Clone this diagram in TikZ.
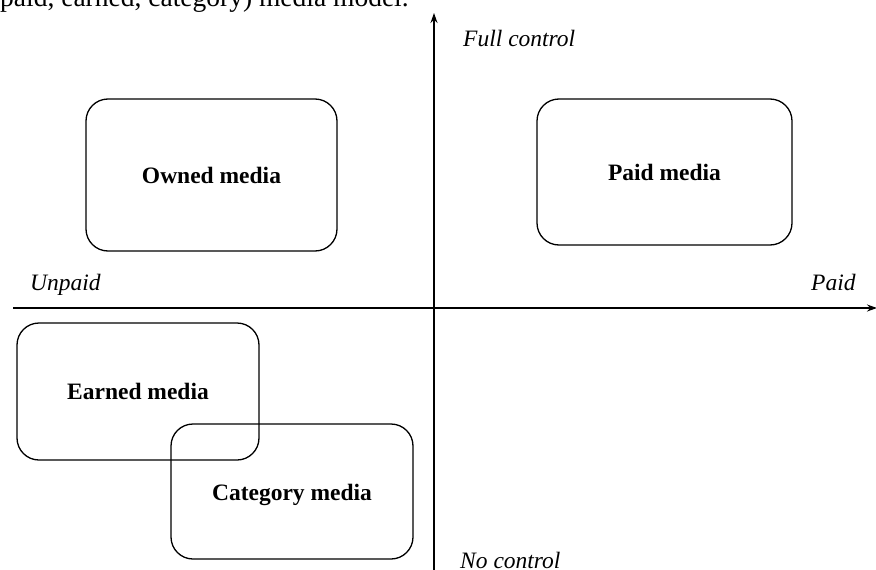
\documentclass[tikz,border=0pt]{standalone}
\usepackage{fontspec}
\setmainfont{Liberation Serif}
\usetikzlibrary{arrows.meta}
\begin{document}
\begin{tikzpicture}[x=1pt,y=-1pt,
  mbox/.style={draw, line width=1.3pt, rounded corners=22pt, font=\fontsize{23.5}{28}\selectfont\bfseries},
  axis/.style={line width=1.3pt, -{Stealth[length=10pt,width=7pt]}},
  albl/.style={font=\fontsize{23.5}{28}\selectfont\itshape, inner sep=0pt}]
\useasboundingbox (0,0) rectangle (876,570);
% clipped caption fragment
\node[anchor=base west, inner sep=0pt, font=\fontsize{27.5}{32}\selectfont] (cap) at (0,6) {paid, earned, category) media model.};
% axes
\coordinate (vb) at (434,572);
\coordinate (vt) at (434,13);
\coordinate (hl) at (13,308);
\coordinate (hr) at (877,308);
\draw[axis] (vb) -- (vt);
\draw[axis] (hl) -- (hr);
% axis labels
\node[albl, anchor=base west] (full) at (463,46) {Full control};
\node[albl, anchor=base west] (unpaid) at (30,290) {Unpaid};
\node[albl, anchor=base west] (paid) at (811,290) {Paid};
\node[albl, anchor=base west] (noc) at (460,568) {No control};
% boxes
\draw[mbox] (86,99) rectangle (337,251);
\node[font=\fontsize{23.5}{28}\selectfont\bfseries] (owned) at (211.5,175) {Owned media};
\draw[mbox] (537,99) rectangle (792,245);
\node[font=\fontsize{23.5}{28}\selectfont\bfseries] (paidm) at (664.5,172) {Paid media};
\draw[mbox] (17,323) rectangle (259,460);
\node[font=\fontsize{23.5}{28}\selectfont\bfseries] (earned) at (138,391) {Earned media};
\draw[mbox] (171,424) rectangle (413,559);
\node[font=\fontsize{23.5}{28}\selectfont\bfseries] (cat) at (292,495) {Category media};
\end{tikzpicture}
\end{document}
